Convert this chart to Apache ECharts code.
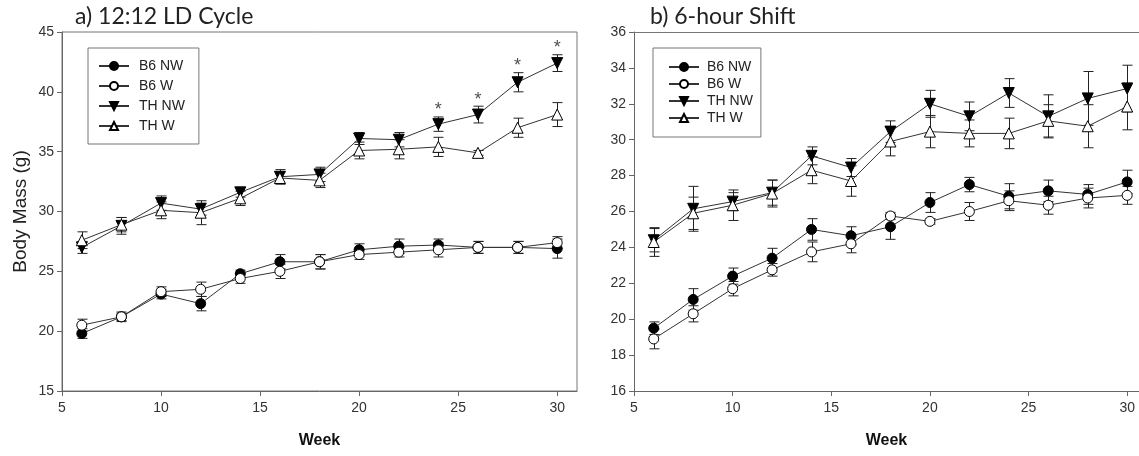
<!DOCTYPE html>
<html>
<head>
<meta charset="utf-8">
<script src="https://cdn.jsdelivr.net/npm/echarts@6/dist/echarts.min.js"></script>
<title>body mass</title>
</head>
<body style="margin:0">
<div id="main" style="width:1139px;height:456px;"></div>
<script type="text/javascript">

var weeks = [6, 8, 10, 12, 14, 16, 18, 20, 22, 24, 26, 28, 30];
var names = ['B6 NW', 'B6 W', 'TH NW', 'TH W'];
var weekTicks = [5, 10, 15, 20, 25, 30];

// a) 12:12 LD cycle
var ldB6NW = [19.8, 21.2, 23.1, 22.3, 24.8, 25.8, 25.8, 26.8, 27.1, 27.2, 27.0, 27.0, 26.9];
var ldB6NWErr = [0.4, 0.3, 0.4, 0.6, 0.3, 0.6, 0.6, 0.5, 0.6, 0.5, 0.5, 0.5, 0.8];
var ldB6W = [20.5, 21.2, 23.3, 23.5, 24.4, 25.0, 25.8, 26.4, 26.6, 26.8, 27.0, 27.0, 27.4];
var ldB6WErr = [0.5, 0.4, 0.4, 0.6, 0.4, 0.6, 0.6, 0.4, 0.4, 0.6, 0.5, 0.5, 0.5];
var ldTHNW = [27.0, 28.8, 30.7, 30.2, 31.6, 32.9, 33.1, 36.1, 36.0, 37.3, 38.1, 40.8, 42.4];
var ldTHNWErr = [0.5, 0.7, 0.6, 0.5, 0.4, 0.6, 0.6, 0.5, 0.6, 0.6, 0.7, 0.8, 0.7];
var ldTHW = [27.6, 28.9, 30.1, 29.9, 31.1, 32.8, 32.6, 35.1, 35.2, 35.4, 34.9, 37.0, 38.1];
var ldTHWErr = [0.7, 0.6, 0.7, 1.0, 0.6, 0.5, 0.6, 0.7, 0.8, 0.8, 0.2, 0.8, 1.0];
var starWeeks = [24, 26, 28, 30];

// b) 6-hour shift
var shB6NW = [19.5, 21.1, 22.4, 23.4, 25.0, 24.65, 25.15, 26.5, 27.5, 26.85, 27.15, 26.95, 27.65];
var shB6NWErr = [0.35, 0.6, 0.45, 0.55, 0.6, 0.5, 0.7, 0.55, 0.4, 0.7, 0.6, 0.55, 0.65];
var shB6W = [18.9, 20.3, 21.7, 22.75, 23.75, 24.2, 25.75, 25.45, 26.0, 26.6, 26.35, 26.75, 26.9];
var shB6WErr = [0.55, 0.45, 0.4, 0.35, 0.55, 0.5, 0.2, 0.15, 0.5, 0.55, 0.5, 0.55, 0.5];
var shTHNW = [24.4, 26.15, 26.55, 27.05, 29.1, 28.45, 30.45, 32.0, 31.3, 32.6, 31.3, 32.3, 32.85];
var shTHNWErr = [0.65, 1.25, 0.5, 0.7, 0.5, 0.5, 0.6, 0.75, 0.8, 0.8, 1.2, 1.5, 1.3];
var shTHW = [24.3, 25.9, 26.35, 27.0, 28.3, 27.7, 29.9, 30.45, 30.35, 30.35, 31.05, 30.75, 31.85];
var shTHWErr = [0.8, 0.9, 0.85, 0.75, 0.75, 0.85, 0.8, 0.9, 0.75, 0.85, 0.9, 1.2, 1.3];

var font = 'Liberation Sans';
var axisColor = '#666';

var markers = {
    'B6 NW': {symbol: 'circle', size: 10, rot: 0, fill: '#000'},
    'B6 W': {symbol: 'circle', size: 10, rot: 0, fill: '#fff'},
    'TH NW': {symbol: 'triangle', size: 11, rot: 180, fill: '#000'},
    'TH W': {symbol: 'triangle', size: 11, rot: 0, fill: '#fff'}
};

function pairs(m) {
    return weeks.map(function (w, i) { return [w, m[i]]; });
}
function bars(m, e) {
    return weeks.map(function (w, i) { return [w, m[i] - e[i], m[i] + e[i]]; });
}

function lineSeries(name, m, gi) {
    var k = markers[name];
    return {
        name: name, type: 'line', xAxisIndex: gi, yAxisIndex: gi,
        data: pairs(m),
        symbol: k.symbol, symbolSize: k.size, symbolRotate: k.rot,
        showAllSymbol: true,
        lineStyle: {color: '#333', width: 1},
        itemStyle: {color: k.fill, borderColor: '#000', borderWidth: 1},
        z: 3
    };
}

function errSeries(m, e, gi) {
    return {
        type: 'custom', xAxisIndex: gi, yAxisIndex: gi, silent: true, z: 2,
        data: bars(m, e),
        renderItem: function (params, api) {
            var lo = api.coord([api.value(0), api.value(1)]);
            var hi = api.coord([api.value(0), api.value(2)]);
            var x = Math.round(lo[0]) + 0.5, c = 5;
            var st = {stroke: '#222', lineWidth: 1};
            return {type: 'group', children: [
                {type: 'line', shape: {x1: x, y1: lo[1], x2: x, y2: hi[1]}, style: st},
                {type: 'line', shape: {x1: x - c, y1: lo[1], x2: x + c, y2: lo[1]}, style: st},
                {type: 'line', shape: {x1: x - c, y1: hi[1], x2: x + c, y2: hi[1]}, style: st}
            ]};
        }
    };
}

var starData = starWeeks.map(function (w) {
    var i = weeks.indexOf(w);
    return [w, ldTHNW[i] + ldTHNWErr[i]];
});

function xAxisFor(gi, max) {
    return {
        gridIndex: gi, type: 'value', min: 5, max: max,
        axisLine: {show: true, lineStyle: {color: axisColor}},
        axisTick: {show: true, inside: false, length: 5, customValues: weekTicks, lineStyle: {color: axisColor}},
        axisLabel: {customValues: weekTicks, fontFamily: font, fontSize: 14, color: '#333', margin: 10},
        splitLine: {show: false},
        name: 'Week', nameLocation: 'middle', nameGap: 42,
        nameTextStyle: {fontFamily: font, fontSize: 16, fontWeight: 'bold', color: '#111'}
    };
}

function yAxisFor(gi, min, max, step) {
    return {
        gridIndex: gi, type: 'value', min: min, max: max, interval: step,
        axisLine: {show: true, lineStyle: {color: axisColor}},
        axisTick: {show: true, inside: false, length: 5, lineStyle: {color: axisColor}},
        axisLabel: {fontFamily: font, fontSize: 14, color: '#333', margin: 8},
        splitLine: {show: false}
    };
}

function legendFor(left, gap, pad, textPad) {
    return {
        data: names, orient: 'vertical', left: left, top: 48,
        itemWidth: 30, itemHeight: 10, itemGap: gap,
        padding: pad, borderColor: '#777', borderWidth: 1,
        textStyle: {fontFamily: font, fontSize: 14, color: '#222', padding: [0, 0, 0, textPad]},
        selectedMode: false
    };
}

var myChart = echarts.init(document.getElementById('main'));

var yLeft = yAxisFor(0, 15, 45, 5);
yLeft.name = 'Body Mass (g)';
yLeft.nameLocation = 'middle';
yLeft.nameGap = 32;
yLeft.nameTextStyle = {fontFamily: font, fontSize: 19, color: '#222'};

// top frame line of panel b (its right edge runs off the picture)
var topLine = {
    gridIndex: 1, type: 'value', min: 5, max: 30.6, position: 'top',
    axisLine: {show: true, lineStyle: {color: '#777'}},
    axisTick: {show: false}, axisLabel: {show: false}, splitLine: {show: false}
};

var option = {
    animation: false,
    backgroundColor: '#fff',
    title: [
        {text: 'a) 12:12 LD Cycle', left: 70, top: 0,
         textStyle: {fontFamily: 'Lato', fontSize: 23, fontWeight: 'normal', color: '#222'}},
        {text: 'b) 6-hour Shift', left: 645, top: 0,
         textStyle: {fontFamily: 'Lato', fontSize: 23, fontWeight: 'normal', color: '#222'}}
    ],
    legend: [
        legendFor(88, 6, [11, 14, 11, 10], 5),
        legendFor(653, 3, [12, 8, 12, 15], 3)
    ],
    grid: [
        {left: 62, top: 32, width: 515, height: 359, show: true, borderColor: '#777', borderWidth: 1},
        {left: 634, top: 32, right: 0, height: 359, show: false}
    ],
    xAxis: [xAxisFor(0, 31), xAxisFor(1, 30.6), topLine],
    yAxis: [yLeft, yAxisFor(1, 16, 36, 2)],
    series: [
        errSeries(ldB6NW, ldB6NWErr, 0),
        errSeries(ldB6W, ldB6WErr, 0),
        errSeries(ldTHNW, ldTHNWErr, 0),
        errSeries(ldTHW, ldTHWErr, 0),
        lineSeries('B6 NW', ldB6NW, 0),
        lineSeries('B6 W', ldB6W, 0),
        lineSeries('TH NW', ldTHNW, 0),
        lineSeries('TH W', ldTHW, 0),
        {
            type: 'scatter', xAxisIndex: 0, yAxisIndex: 0, data: starData,
            symbolSize: 1, itemStyle: {color: 'rgba(0,0,0,0)'}, silent: true, z: 4,
            label: {show: true, position: 'top', distance: -3, formatter: '*',
                    fontFamily: font, fontSize: 18, color: '#222'}
        },
        errSeries(shB6NW, shB6NWErr, 1),
        errSeries(shB6W, shB6WErr, 1),
        errSeries(shTHNW, shTHNWErr, 1),
        errSeries(shTHW, shTHWErr, 1),
        lineSeries('B6 NW', shB6NW, 1),
        lineSeries('B6 W', shB6W, 1),
        lineSeries('TH NW', shTHNW, 1),
        lineSeries('TH W', shTHW, 1)
    ]
};
myChart.setOption(option);

</script>
</body>
</html>
